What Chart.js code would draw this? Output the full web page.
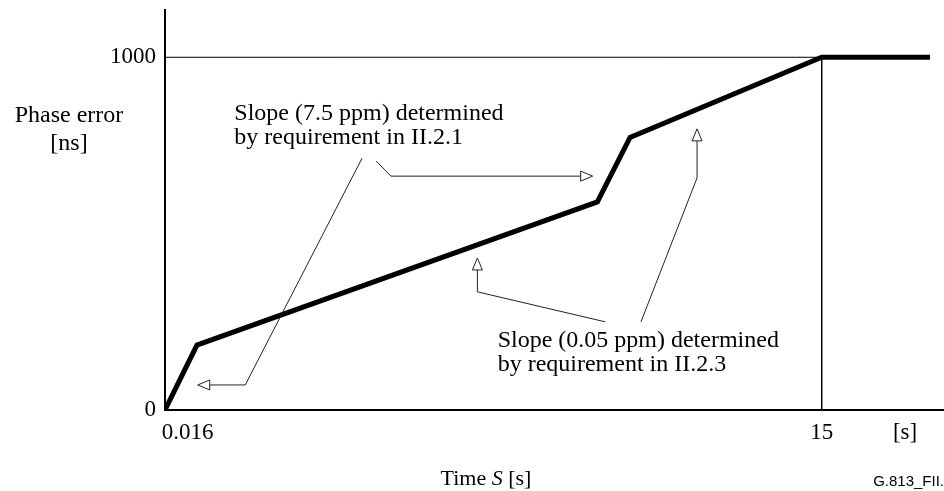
<!DOCTYPE html>
<html>
<head>
<meta charset="utf-8">
<script src="https://cdn.jsdelivr.net/npm/chart.js@4.4.1/dist/chart.umd.min.js"></script>
<style>
  html, body { margin: 0; padding: 0; background: #fff; }
  #wrap { width: 944px; height: 491px; position: relative; }
</style>
</head>
<body>
<div id="wrap"><canvas id="c"></canvas></div>
<script>
// schematic time axis (arbitrary units, 0..100) and phase error in ns
const curveX = [0, 4.1, 55.5, 59.7, 84.3, 98.2];
const curveY = [0, 184, 590, 773, 1000, 1000];

// reference lines at 1000 ns and at 15 s
const refX = [0, 84.3, 84.3];
const refY = [1000, 1000, 0];

const xTickValues = [2.9, 84.3, 95.0];
const xTickLabels = ['0.016', '15', '[s]'];
const yTickValues = [0, 1000];
const yTickLabels = ['0', '1000'];

// annotation texts: position of first baseline, in axis units
const notes = [
  { x: 8.9, y: 822, lines: ['Slope (7.5 ppm) determined', 'by requirement in II.2.1'] },
  { x: 42.7, y: 179, lines: ['Slope (0.05 ppm) determined', 'by requirement in II.2.3'] }
];
// leader arrows, last point is the arrow tip
const arrows = [
  [[25.3, 714], [10.3, 71], [4.2, 71]],
  [[27.1, 706], [29.0, 663], [54.9, 663]],
  [[61.1, 250], [68.3, 658], [68.3, 797]],
  [[56.5, 250], [40.1, 335], [40.1, 431]]
];

const serif = "'Liberation Serif', 'Times New Roman', serif";
const FS = 24;

function toPts(xs, ys) {
  return xs.map((x, i) => ({ x: x, y: ys[i] }));
}

const annotationPlugin = {
  id: 'notes',
  afterDraw(chart) {
    const ctx = chart.ctx;
    const xs = chart.scales.x, ys = chart.scales.y;
    ctx.save();

    // leader lines with open triangle heads
    ctx.strokeStyle = '#222';
    ctx.lineWidth = 1;
    arrows.forEach(a => {
      const p = a.map(q => [xs.getPixelForValue(q[0]), ys.getPixelForValue(q[1])]);
      const n = p.length;
      const tip = p[n - 1], prev = p[n - 2];
      const ang = Math.atan2(tip[1] - prev[1], tip[0] - prev[0]);
      const len = 12, hw = 5;
      const bx = tip[0] - len * Math.cos(ang), by = tip[1] - len * Math.sin(ang);
      ctx.beginPath();
      ctx.moveTo(p[0][0], p[0][1]);
      for (let i = 1; i < n - 1; i++) ctx.lineTo(p[i][0], p[i][1]);
      ctx.lineTo(bx, by);
      ctx.stroke();
      ctx.beginPath();
      ctx.moveTo(tip[0], tip[1]);
      ctx.lineTo(bx + hw * Math.sin(ang), by - hw * Math.cos(ang));
      ctx.lineTo(bx - hw * Math.sin(ang), by + hw * Math.cos(ang));
      ctx.closePath();
      ctx.fillStyle = '#fff';
      ctx.fill();
      ctx.stroke();
    });

    // annotation text
    ctx.fillStyle = '#000';
    ctx.font = FS + 'px ' + serif;
    ctx.textAlign = 'left';
    ctx.textBaseline = 'alphabetic';
    notes.forEach(nt => {
      const px = xs.getPixelForValue(nt.x), py = ys.getPixelForValue(nt.y);
      nt.lines.forEach((ln, i) => ctx.fillText(ln, px, py + i * 24));
    });

    // y axis title, horizontal, left of the axis
    ctx.textAlign = 'center';
    ctx.fillText('Phase error', 69, 122);
    ctx.fillText('[ns]', 69, 150);

    // x axis title with italic S
    const tf = '22px ' + serif;
    const parts = [['Time ', tf], ['S', 'italic ' + tf], [' [s]', tf]];
    let total = 0;
    parts.forEach(pt => { ctx.font = pt[1]; total += ctx.measureText(pt[0]).width; });
    let cx = 486 - total / 2;
    ctx.textAlign = 'left';
    parts.forEach(pt => { ctx.font = pt[1]; ctx.fillText(pt[0], cx, 485); cx += ctx.measureText(pt[0]).width; });

    ctx.font = "15px 'Liberation Sans', Arial, sans-serif";
    ctx.textAlign = 'right';
    ctx.fillText('G.813_FII.', 944, 486);
    ctx.restore();
  }
};

new Chart(document.getElementById('c'), {
  type: 'scatter',
  data: {
    datasets: [
      {
        data: toPts(refX, refY),
        showLine: true,
        borderColor: '#000',
        borderWidth: 1,
        pointRadius: 0,
        tension: 0
      },
      {
        data: toPts(curveX, curveY),
        showLine: true,
        borderColor: '#000',
        borderWidth: 5,
        borderJoinStyle: 'miter',
        pointRadius: 0,
        tension: 0
      }
    ]
  },
  options: {
    responsive: true,
    maintainAspectRatio: false,
    animation: false,
    layout: { padding: { top: 10, right: 0, left: 0, bottom: 0 } },
    plugins: {
      legend: { display: false },
      tooltip: { enabled: false }
    },
    scales: {
      x: {
        type: 'linear',
        min: 0,
        max: 100,
        grid: { display: false, drawTicks: false },
        border: { color: '#000', width: 2 },
        afterBuildTicks: s => { s.ticks = xTickValues.map(v => ({ value: v })); },
        afterFit: s => { s.height = 81; s.paddingLeft = 0; s.paddingRight = 0; },
        ticks: {
          padding: 9,
          maxRotation: 0,
          autoSkip: false,
          color: '#000',
          font: { family: serif, size: 23 },
          callback: (v, i) => xTickLabels[i]
        }
      },
      y: {
        type: 'linear',
        min: 0,
        max: 1134,
        grid: { display: false, drawTicks: false },
        border: { color: '#000', width: 2 },
        afterBuildTicks: s => { s.ticks = yTickValues.map(v => ({ value: v })); },
        afterFit: s => { s.width = 165; s.paddingTop = 0; s.paddingBottom = 0; },
        ticks: {
          padding: 9,
          autoSkip: false,
          color: '#000',
          font: { family: serif, size: 23 },
          callback: (v, i) => yTickLabels[i]
        }
      }
    }
  },
  plugins: [annotationPlugin]
});
</script>
</body>
</html>
